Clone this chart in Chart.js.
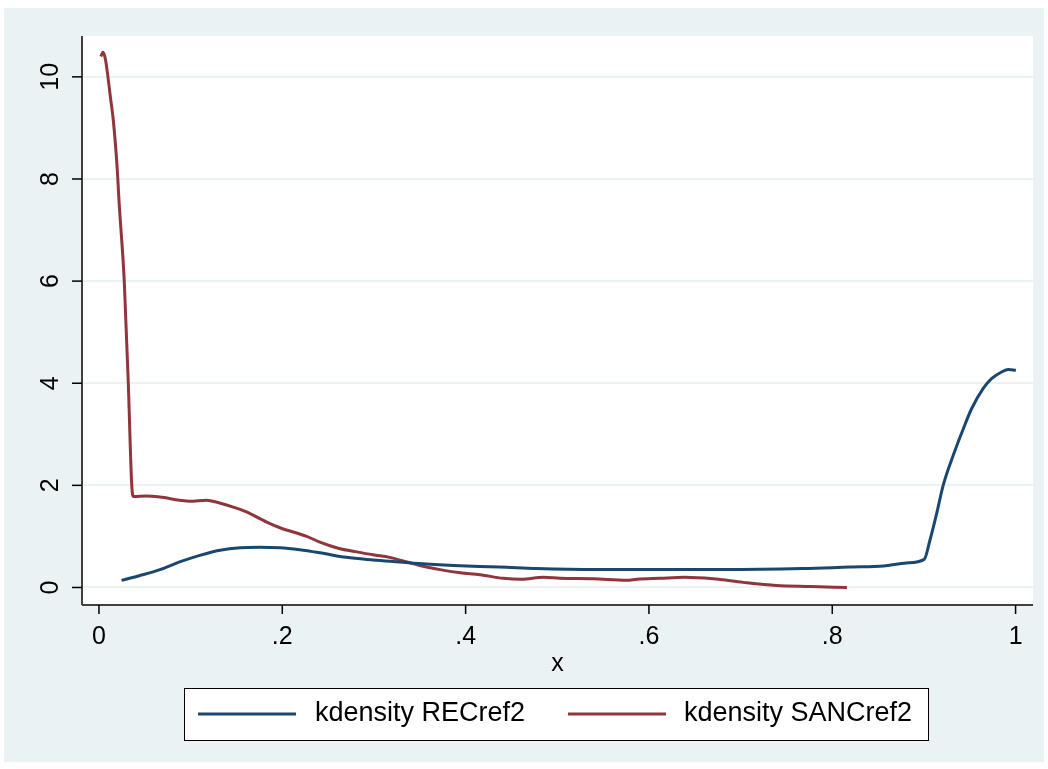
<!DOCTYPE html>
<html>
<head>
<meta charset="utf-8">
<script src="https://cdn.jsdelivr.net/npm/chart.js@4"></script>
<style>
html,body{margin:0;padding:0;background:#fff;}
#wrap{width:1048px;height:769px;position:relative;}
</style>
</head>
<body>
<div id="wrap"><canvas id="c" width="1048" height="769"></canvas></div>
<script>
// ---- data ----
const recX = [0.0247,0.0447,0.0665,0.088,0.110,0.132,0.154,0.1756,0.1975,0.219,0.241,0.270,0.299,0.328,0.357,0.3866,0.4156,0.437,0.477,0.543,0.612,0.681,0.768,0.819,0.856,0.881,0.9003,0.9065,0.9138,0.921,0.932,0.943,0.952,0.9647,0.9738,0.9847,0.992,1.0003];
const recY = [0.14,0.235,0.35,0.50,0.63,0.73,0.78,0.79,0.78,0.74,0.68,0.59,0.54,0.50,0.46,0.43,0.41,0.40,0.37,0.35,0.35,0.35,0.37,0.40,0.42,0.48,0.55,0.92,1.44,2.0,2.59,3.11,3.50,3.90,4.09,4.22,4.27,4.255];
const sanX = [0.002,0.0045,0.007,0.0098,0.0125,0.0156,0.020,0.0218,0.0276,0.032,0.0357,0.0375,0.052,0.0665,0.088,0.099,0.1175,0.124,0.1465,0.161,0.183,0.1975,0.2266,0.241,0.263,0.2775,0.299,0.317,0.336,0.350,0.372,0.394,0.4156,0.441,0.461,0.485,0.503,0.539,0.576,0.587,0.612,0.639,0.67,0.703,0.739,0.776,0.816];
const sanY = [10.40,10.48,10.35,10.0,9.6,9.16,8.18,7.59,6.0,4.0,2.03,1.78,1.79,1.77,1.71,1.69,1.71,1.69,1.575,1.48,1.28,1.17,1.0,0.89,0.76,0.71,0.64,0.59,0.50,0.43,0.35,0.29,0.25,0.18,0.16,0.20,0.18,0.17,0.14,0.16,0.18,0.20,0.17,0.10,0.04,0.02,0.0];
const seriesLabels = ['kdensity RECref2','kdensity SANCref2'];
const seriesColors = ['#1a476f','#90353b'];
const xTickValues = [0,0.2,0.4,0.6,0.8,1];
const xTickLabels = ['0','.2','.4','.6','.8','1'];
const yTickValues = [0,2,4,6,8,10];
const yTickLabels = ['0','2','4','6','8','10'];
const xTitle = 'x';

const FONT = "'Liberation Sans', Arial, sans-serif";
const toPts = (xs, ys) => xs.map((x,i)=>({x:x, y:ys[i]}));

const decor = {
  id:'decor',
  beforeDraw(chart){
    const ctx = chart.ctx, a = chart.chartArea;
    ctx.save();
    ctx.fillStyle = '#ffffff';
    ctx.fillRect(0,0,chart.width,chart.height);
    ctx.fillStyle = '#eaf2f3';
    ctx.fillRect(4,8,1040,754);
    ctx.fillStyle = '#ffffff';
    ctx.fillRect(a.left,a.top,a.right-a.left,a.bottom-a.top);
    ctx.restore();
  },
  afterDraw(chart){
    const ctx = chart.ctx, a = chart.chartArea;
    const xs = chart.scales.x, ys = chart.scales.y;
    ctx.save();
    // axis lines
    ctx.strokeStyle = '#404040';
    ctx.lineWidth = 2;
    ctx.beginPath();
    ctx.moveTo(a.left, a.top); ctx.lineTo(a.left, a.bottom);
    ctx.moveTo(a.left, a.bottom); ctx.lineTo(a.right, a.bottom);
    ctx.stroke();
    // ticks
    ctx.strokeStyle = '#000';
    ctx.lineWidth = 1.5;
    ctx.fillStyle = '#000';
    ctx.font = '25px ' + FONT;
    yTickValues.forEach((v,i)=>{
      const py = ys.getPixelForValue(v);
      ctx.beginPath(); ctx.moveTo(a.left-10, py); ctx.lineTo(a.left, py); ctx.stroke();
      ctx.save();
      ctx.translate(a.left-31, py);
      ctx.rotate(-Math.PI/2);
      ctx.textAlign='center'; ctx.textBaseline='middle';
      ctx.fillText(yTickLabels[i],0,0);
      ctx.restore();
    });
    xTickValues.forEach((v,i)=>{
      const px = xs.getPixelForValue(v);
      ctx.beginPath(); ctx.moveTo(px, a.bottom); ctx.lineTo(px, a.bottom+9); ctx.stroke();
      ctx.textAlign='center'; ctx.textBaseline='middle';
      ctx.fillText(xTickLabels[i], px, a.bottom+32);
    });
    // axis title
    ctx.textAlign='center'; ctx.textBaseline='middle';
    ctx.fillText(xTitle, (a.left+a.right)/2, a.bottom+59);
    // legend
    const lx=184, ly=688, lw=744, lh=52;
    ctx.fillStyle='#fff';
    ctx.fillRect(lx,ly,lw,lh);
    ctx.strokeStyle='#000'; ctx.lineWidth=1;
    ctx.strokeRect(lx+0.5,ly+0.5,lw,lh);
    const cy = ly+lh/2;
    const items = [{s:198,t:315},{s:568,t:684}];
    ctx.font = '27px ' + FONT;
    items.forEach((it,i)=>{
      ctx.strokeStyle = seriesColors[i]; ctx.lineWidth=3;
      ctx.beginPath(); ctx.moveTo(it.s, cy); ctx.lineTo(it.s+98, cy); ctx.stroke();
      ctx.fillStyle='#000'; ctx.textAlign='left'; ctx.textBaseline='middle';
      ctx.fillText(seriesLabels[i], it.t, cy);
    });
    ctx.restore();
  }
};

new Chart(document.getElementById('c'), {
  type:'scatter',
  data:{
    datasets:[
      {label:seriesLabels[0], data:toPts(recX,recY), showLine:true, borderColor:seriesColors[0], borderWidth:3, pointRadius:0, cubicInterpolationMode:'monotone', fill:false},
      {label:seriesLabels[1], data:toPts(sanX,sanY), showLine:true, borderColor:seriesColors[1], borderWidth:3, pointRadius:0, cubicInterpolationMode:'monotone', fill:false}
    ]
  },
  options:{
    responsive:false,
    animation:false,
    devicePixelRatio:1,
    layout:{padding:{left:82, right:15, top:36, bottom:164}},
    plugins:{legend:{display:false}, tooltip:{enabled:false}},
    scales:{
      x:{type:'linear', min:-0.0185, max:1.019, ticks:{display:false}, grid:{display:false, drawTicks:false}, border:{display:false}},
      y:{type:'linear', min:-0.343, max:10.80, afterBuildTicks:(s)=>{s.ticks = yTickValues.map(v=>({value:v}));}, ticks:{display:false}, grid:{color:'#eaf2f3', lineWidth:2, drawTicks:false}, border:{display:false}}
    }
  },
  plugins:[decor]
});
</script>
</body>
</html>
